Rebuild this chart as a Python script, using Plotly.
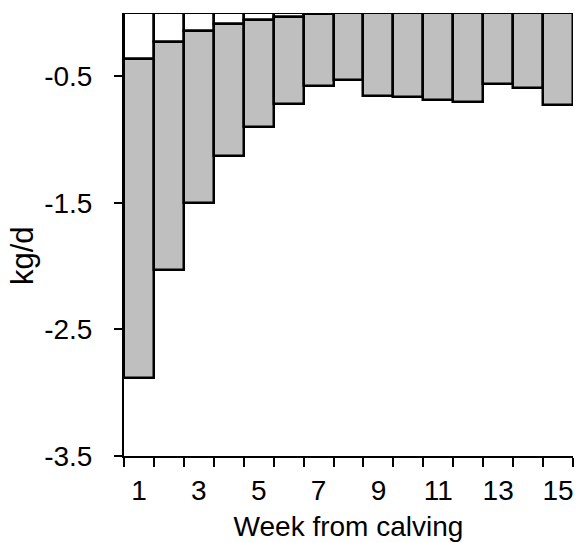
import plotly.graph_objects as go

# Weekly change, kg/d: each week's bar runs from 0 down to the upper bound (white part)
# and from there down to the lower bound (grey part).
weeks = [str(w) for w in range(1, 16)]
upper = [-0.36, -0.23, -0.145, -0.085, -0.057, -0.031, -0.01, 0, 0, 0, 0, 0, 0, 0, 0]
lower = [-2.88, -2.03, -1.50, -1.13, -0.90, -0.72, -0.58, -0.53,
         -0.655, -0.665, -0.69, -0.70, -0.56, -0.59, -0.725]
week_labels = [w if int(w) % 2 == 1 else "" for w in weeks]
y_ticks = [-3.5, -2.5, -1.5, -0.5]

FONT = "Liberation Sans, Arial, sans-serif"
outline = dict(color="black", width=2.5)

fig = go.Figure()
fig.add_bar(x=weeks, y=upper, base=0, marker=dict(color="white", line=outline),
            showlegend=False, hoverinfo="skip")
fig.add_bar(x=weeks, y=[lo - up for lo, up in zip(lower, upper)], base=upper,
            marker=dict(color="#BFBFBF", line=outline), showlegend=False)

fig.update_layout(
    width=577, height=543,
    margin=dict(l=124, r=4, t=13, b=87),
    barmode="overlay", bargap=0,
    plot_bgcolor="white", paper_bgcolor="white",
    font=dict(family=FONT, size=28, color="black"),
)
fig.update_xaxes(
    type="category", tickvals=weeks, ticktext=week_labels, tickangle=0,
    tickson="boundaries", ticks="outside", ticklen=9, tickwidth=2, tickcolor="black",
    showline=True, linecolor="black", linewidth=2, showgrid=False,
    ticklabelstandoff=8,
    title=dict(text="Week from calving", standoff=12, font=dict(family=FONT, size=28)),
)
fig.update_yaxes(
    range=[-3.5, 0], tickvals=y_ticks, ticktext=[f"{v:.1f}" for v in y_ticks],
    ticks="outside", ticklen=8, tickwidth=2, tickcolor="black",
    showline=True, linecolor="black", linewidth=2, showgrid=False, zeroline=False,
    ticklabelstandoff=16,
)
fig.add_annotation(text="kg/d", textangle=-90, xref="paper", yref="paper",
                   x=(22 - 124) / 449, y=(456 - 256) / 443,
                   xanchor="center", yanchor="middle", showarrow=False,
                   font=dict(family=FONT, size=31))

fig.write_html("out.html")
